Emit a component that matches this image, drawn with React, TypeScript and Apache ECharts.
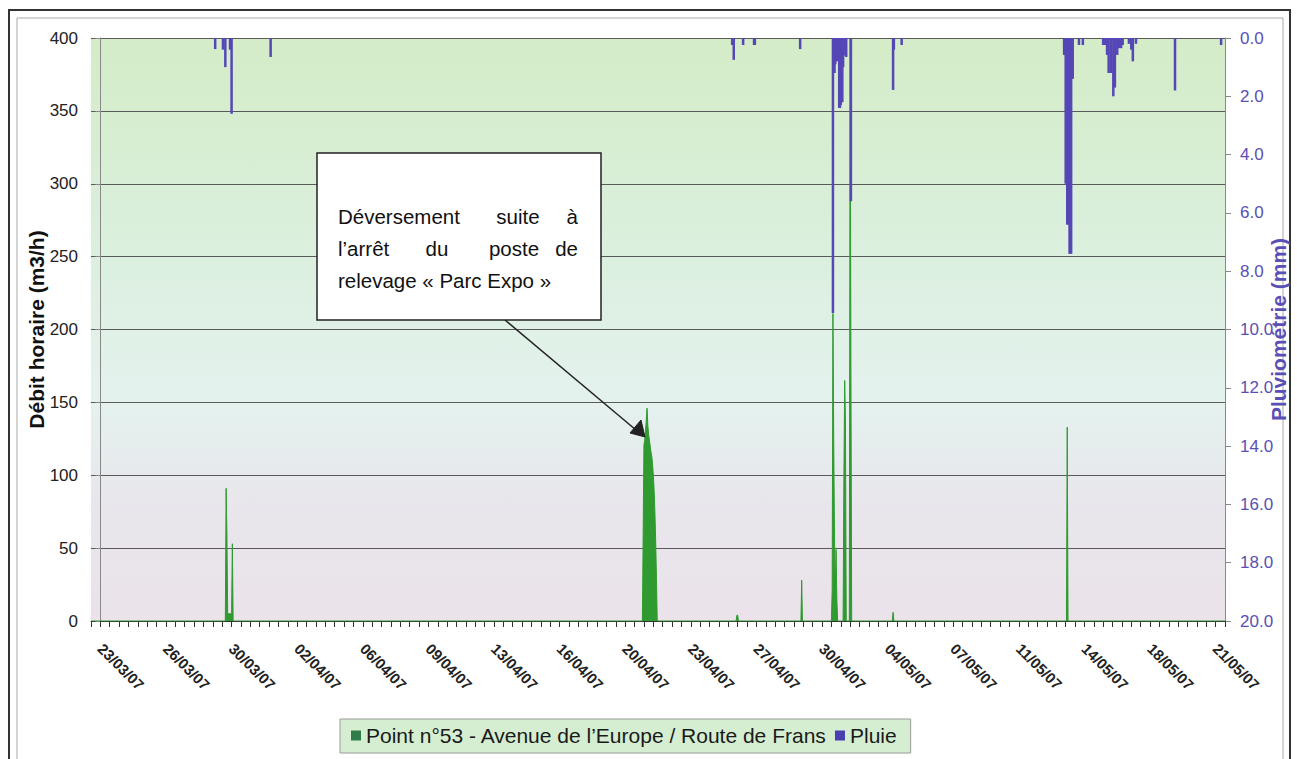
import React, { useEffect, useRef } from "react";
import * as echarts from "echarts";

// x values are hours counted from 23/03/07 00:00
const xLabels = [
  "23/03/07", "26/03/07", "30/03/07", "02/04/07", "06/04/07", "09/04/07",
  "13/04/07", "16/04/07", "20/04/07", "23/04/07", "27/04/07", "30/04/07",
  "04/05/07", "07/05/07", "11/05/07", "14/05/07", "18/05/07", "21/05/07",
];
const labelStepHours = 84;
const tickStepHours = 12;
const xMin = -12;
const xMax = 1440;

// Débit horaire (m3/h) — [hour, value]
const flowData: [number, number][] = [
  [-12, 0],
  [155, 0], [160, 0], [161, 91], [162, 60], [163, 5], [164, 5], [165, 5], [166, 5], [167, 5], [168, 5], [169, 53], [170, 0],
  [694, 0], [695, 60], [696, 121], [697, 124], [698, 130], [699, 138], [700, 146], [701, 134], [702, 128], [703, 124],
  [704, 120], [705, 116], [706, 113], [707, 108], [708, 100], [709, 90], [710, 75], [711, 55], [712, 30], [713, 0],
  [814, 0], [815, 4], [816, 4], [817, 0],
  [897, 0], [898, 28], [899, 0],
  [936, 0], [937, 21], [938, 211], [939, 123], [940, 57], [941, 20], [942, 49], [943, 15], [944, 0],
  [951, 0], [952, 97], [953, 165], [954, 138], [955, 0],
  [959, 0], [960, 400], [961, 178], [962, 0],
  [1014, 0], [1015, 6], [1016, 0],
  [1237, 0], [1238, 133], [1239, 0],
  [1440, 0],
];

// Pluie (mm) — [hour, value]
const rainData: [number, number][] = [
  [147, 0.38], [157, 0.4], [160, 1.0], [166, 0.4], [168, 2.6], [218, 0.65],
  [809, 0.24], [811, 0.75], [823, 0.24], [837, 0.24], [838, 0.24], [896, 0.38],
  [938, 9.43], [939, 0.6], [940, 1.2], [941, 0.9], [942, 0.6], [943, 0.8], [944, 0.65],
  [946, 2.4], [947, 2.4], [948, 2.3], [949, 2.2], [950, 2.2], [951, 1.0], [952, 0.6], [955, 0.65], [961, 5.6],
  [1015, 1.78], [1016, 0.4], [1026, 0.24],
  [1234, 0.58], [1235, 0.58], [1236, 5.0], [1238, 6.4], [1239, 6.4], [1240, 6.4], [1241, 7.4], [1242, 7.4],
  [1243, 7.4], [1244, 1.4], [1245, 1.4], [1253, 0.24], [1258, 0.24],
  [1284, 0.24], [1286, 0.24], [1289, 0.58], [1291, 1.2], [1294, 1.2], [1297, 2.0], [1299, 1.7], [1302, 0.58],
  [1304, 0.35], [1307, 0.35], [1309, 0.24], [1317, 0.2], [1320, 0.4], [1322, 0.8], [1326, 0.2], [1376, 1.8], [1435, 0.24],
];

const flowName = "Point n°53 - Avenue de l’Europe / Route de Frans";
const rainName = "Pluie";
const FONT = "'Liberation Sans', Arial, sans-serif";
const NOTE_FONT = `20.5px ${FONT}`;

export default function App() {
  const ref = useRef<HTMLDivElement>(null);
  useEffect(() => {
    document.body.style.margin = "0";
    if (!ref.current) return;
    const chart = echarts.init(ref.current, undefined, { renderer: "svg" });
    const labelValues = xLabels.map((_, i) => i * labelStepHours);
    const tickValues: number[] = [];
    for (let v = xMin; v <= xMax; v += tickStepHours) tickValues.push(v);

    const noteText = (text: string, x: number, y: number, align: string) => ({
      type: "text",
      x,
      y,
      z: 101,
      style: { text, font: NOTE_FONT, fill: "#111", textAlign: align, textVerticalAlign: "middle" },
    });

    const option: any = {
      animation: false,
      backgroundColor: "#ffffff",
      textStyle: { fontFamily: FONT },
      grid: {
        left: 91,
        right: 72,
        top: 38,
        bottom: 138,
        show: true,
        borderWidth: 0,
        outerBoundsMode: "none",
        containLabel: false,
        backgroundColor: {
          type: "linear", x: 0, y: 0, x2: 0, y2: 1,
          colorStops: [
            { offset: 0, color: "#d4ecc7" },
            { offset: 0.4, color: "#dcf0e0" },
            { offset: 0.62, color: "#e4f2ee" },
            { offset: 0.8, color: "#e8e6ec" },
            { offset: 1, color: "#ebe2ea" },
          ],
        },
      },
      legend: {
        left: 340,
        top: 719,
        padding: [6, 14, 7, 11],
        itemGap: 8,
        itemWidth: 10,
        itemHeight: 10,
        icon: "rect",
        backgroundColor: "#d5eed2",
        borderColor: "#9a9a9a",
        borderWidth: 1,
        textStyle: { fontSize: 21, color: "#1a1a1a", fontFamily: FONT, padding: [0, 0, 0, 0] },
        data: [
          { name: flowName, itemStyle: { color: "#2e7d4a" } },
          { name: rainName, itemStyle: { color: "#4a3fb0" } },
        ],
      },
      xAxis: {
        type: "value",
        min: xMin,
        max: xMax,
        axisLine: { show: true, lineStyle: { color: "#333", width: 1 } },
        axisTick: { show: true, length: 6, customValues: tickValues, lineStyle: { color: "#333" } },
        splitLine: { show: false },
        axisLabel: {
          customValues: labelValues,
          rotate: -45,
          margin: 25,
          fontSize: 15,
          fontWeight: "bold",
          color: "#222",
          fontFamily: FONT,
          formatter: (v: number) => xLabels[Math.round(v / labelStepHours)] ?? "",
        },
      },
      yAxis: [
        {
          type: "value",
          min: 0,
          max: 400,
          interval: 50,
          name: "Débit horaire (m3/h)",
          nameLocation: "middle",
          nameRotate: 90,
          nameGap: 44,
          nameMoveOverlap: false,
          nameTextStyle: { fontSize: 21, fontWeight: "bold", color: "#111", fontFamily: FONT },
          axisLine: { show: true, lineStyle: { color: "#888" } },
          axisTick: { show: true, length: 5, lineStyle: { color: "#888" } },
          axisLabel: { fontSize: 17, color: "#222", margin: 13, fontFamily: FONT },
          splitLine: { show: true, lineStyle: { color: "#5a5a5a", width: 1 } },
        },
        {
          type: "value",
          min: 0,
          max: 20,
          interval: 2,
          inverse: true,
          position: "right",
          name: "Pluviométrie (mm)",
          nameLocation: "middle",
          nameRotate: 90,
          nameGap: 43,
          nameMoveOverlap: false,
          nameTextStyle: { fontSize: 21, fontWeight: "bold", color: "#5a4fb4", fontFamily: FONT },
          axisLine: { show: true, lineStyle: { color: "#888" } },
          axisTick: { show: true, length: 6, lineStyle: { color: "#888" } },
          axisLabel: {
            fontSize: 17,
            color: "#5a4fb4",
            margin: 15,
            fontFamily: FONT,
            formatter: (v: number) => v.toFixed(1),
          },
          splitLine: { show: false },
        },
      ],
      series: [
        {
          name: flowName,
          type: "line",
          data: flowData,
          symbol: "none",
          color: "#2e9a2e",
          lineStyle: { width: 1, color: "#2f9a2f" },
          areaStyle: { color: "#2f9a2f", opacity: 1 },
          z: 2,
        },
        {
          name: rainName,
          type: "bar",
          yAxisIndex: 1,
          data: rainData,
          barWidth: 2.5,
          color: "#5547b6",
          itemStyle: { color: "#5547b6" },
          z: 3,
        },
      ],
      graphic: [
        {
          type: "rect",
          shape: { x: 9, y: 10, width: 1281, height: 760 },
          style: { fill: "none", stroke: "#333", lineWidth: 2 },
          silent: true,
        },
        {
          type: "rect",
          shape: { x: 17, y: 18, width: 1266, height: 760 },
          style: { fill: "none", stroke: "#aaa", lineWidth: 1 },
          silent: true,
        },
        {
          type: "line",
          shape: { x1: 505, y1: 320, x2: 636, y2: 430 },
          style: { stroke: "#222", lineWidth: 1.5 },
          z: 100,
        },
        {
          type: "polygon",
          shape: { points: [[645, 437], [630, 433], [641, 420]] },
          style: { fill: "#222", stroke: "#222" },
          z: 100,
        },
        {
          type: "rect",
          shape: { x: 317, y: 153, width: 284, height: 167 },
          style: { fill: "#ffffff", stroke: "#222", lineWidth: 1.5 },
          z: 100,
        },
        noteText("Déversement", 338, 216, "left"),
        noteText("suite", 518, 216, "center"),
        noteText("à", 578, 216, "right"),
        noteText("l’arrêt", 338, 248, "left"),
        noteText("du", 437, 248, "center"),
        noteText("poste", 514, 248, "center"),
        noteText("de", 578, 248, "right"),
        noteText("relevage « Parc Expo »", 338, 280, "left"),
      ],
    };
    chart.setOption(option);
    return () => chart.dispose();
  }, []);
  return <div ref={ref} style={{ width: 1297, height: 759 }} />;
}
